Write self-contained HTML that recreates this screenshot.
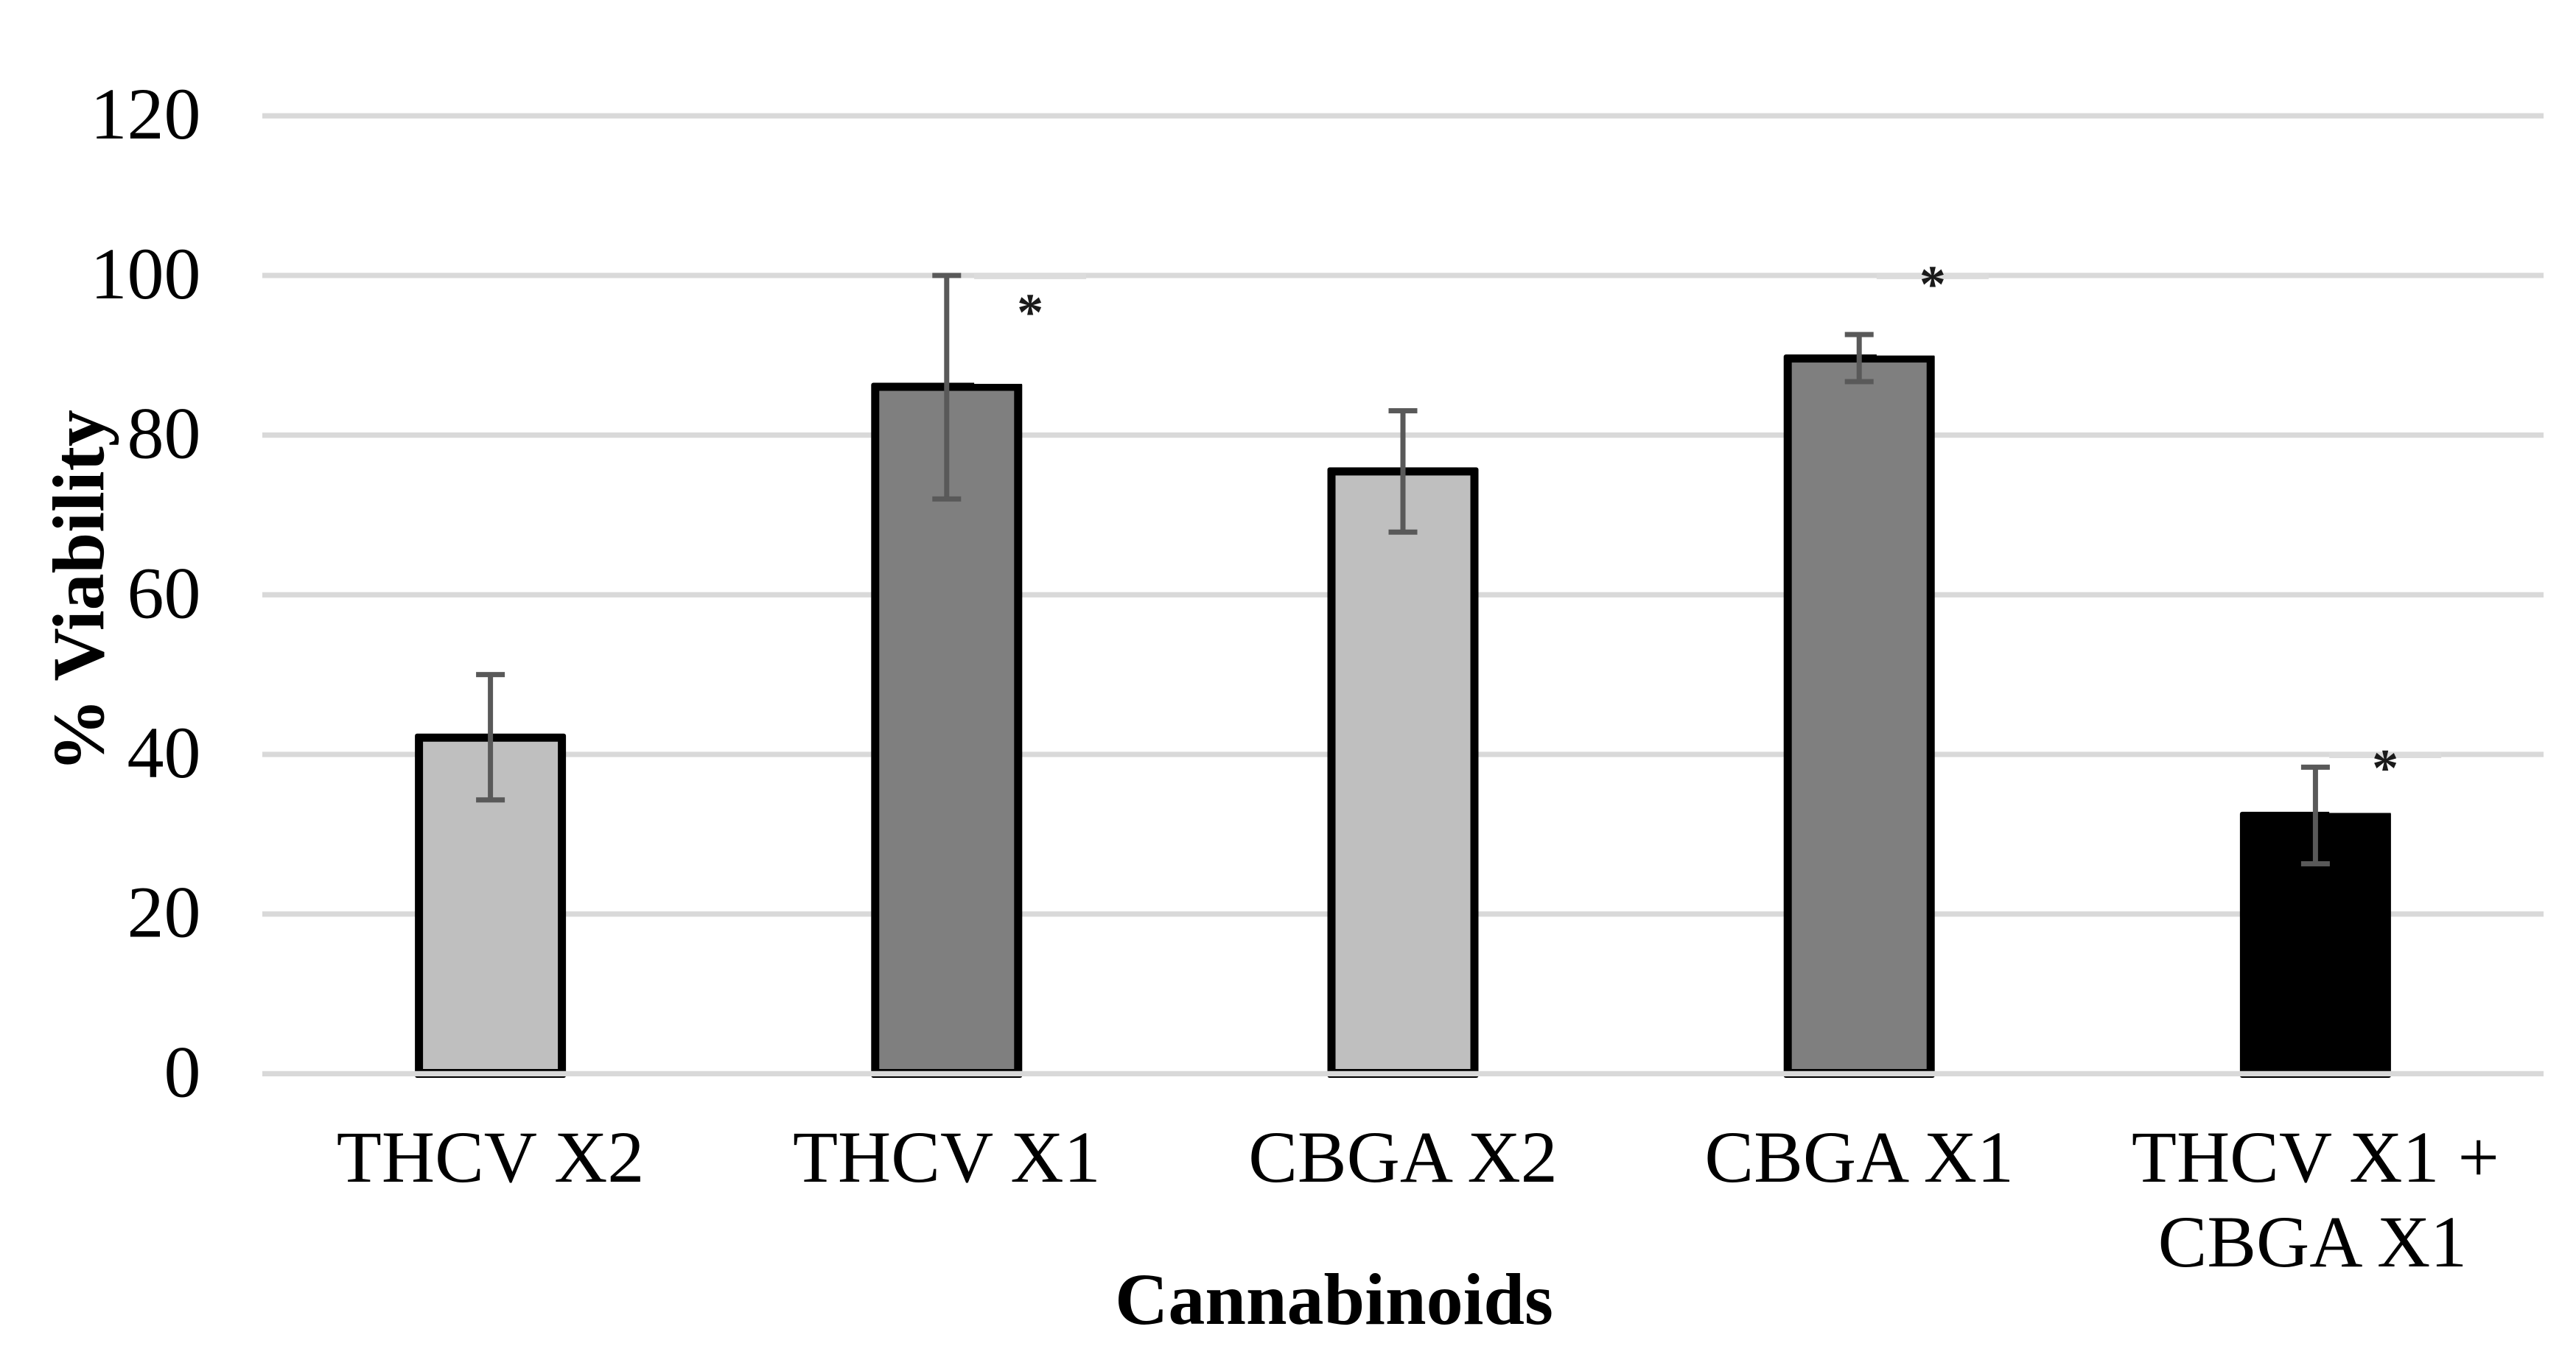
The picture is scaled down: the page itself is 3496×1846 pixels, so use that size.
<!DOCTYPE html>
<html>
<head>
<meta charset="utf-8">
<title>Cannabinoids viability chart</title>
<style>
  html, body { margin: 0; padding: 0; background: #fff; }
  body { width: 3496px; height: 1846px; overflow: hidden; }
  svg { display: block; }
  text { font-family: "Liberation Serif", "Times New Roman", serif; fill: #000; }
</style>
</head>
<body>
<svg id="chart" xmlns="http://www.w3.org/2000/svg" width="3496" height="1846" viewBox="0 0 3496 1846">
  <rect x="0" y="0" width="3496" height="1846" fill="#ffffff"/>
  <text x="1810.5" y="1797" font-size="100" font-weight="bold" text-anchor="middle">Cannabinoids</text>
  <text transform="translate(140 802) rotate(-90)" x="0" y="0" font-size="100" font-weight="bold" text-anchor="middle">% Viability</text>
</svg>
<script>
const categories = [['THCV X2'], ['THCV X1'], ['CBGA X2'], ['CBGA X1'], ['THCV X1 +', 'CBGA X1']];
const viability = [42.1, 86.05, 75.45, 89.6, 32.3];
const errorUpper = [50, 100, 83.05, 92.6, 38.4];
const errorLower = [34.3, 72, 67.85, 86.7, 26.3];
const barKinds = ['light', 'mid', 'light', 'mid', 'dark'];
const yTicks = [0, 20, 40, 60, 80, 100, 120];
const significance = ['', '*', '', '*', '*'];
const markerLevels = [null, 96.3, null, 99.8, 39.2];
const markerBandOffsets = [0, 0.183, 0, 0.161, 0.153];
const pastedGridValues = [null, 100, null, 100, 40];

const NS = 'http://www.w3.org/2000/svg';
const svg = document.getElementById('chart');
const plotLeft = 356, plotRight = 3452, zeroY = 1457.4, pxPerUnit = 10.835;
const band = (plotRight - plotLeft) / categories.length;
const barW = 205, border = 11;
const fills = { light: '#bfbfbf', mid: '#7f7f7f', dark: '#000000' };

function xAt(i) { return plotLeft + band * (i + 0.5); }
function yAt(v) { return zeroY - v * pxPerUnit; }
function make(tag, props, parent) {
  const el = document.createElementNS(NS, tag);
  for (const k in props) el.setAttribute(k, props[k]);
  (parent || svg).appendChild(el);
  return el;
}

// gridlines (zero line is drawn after the bars)
function gridLine(v) {
  const line = make('rect', { x: plotLeft, y: yAt(v) - 3.6, width: plotRight - plotLeft, height: 7.2, fill: '#d9d9d9' });
  
  
}
yTicks.filter(v => v !== 0).forEach(gridLine);

// y tick labels
yTicks.forEach(v => {
  const t = make('text', { x: 272.5, y: yAt(v) + 31, 'font-size': 100, 'text-anchor': 'end' });
  t.textContent = String(v);
  
  
});

// bars
categories.forEach((c, i) => {
  const top = yAt(viability[i]) - border / 2;
  const left = xAt(i) - barW / 2;
  const outer = make('rect', { x: left, y: top, width: barW, height: zeroY + 5.6 - top, rx: 3, fill: '#000000' });
  
  
  const inner = make('rect', { x: left + border, y: top + border, width: barW - 2 * border, height: zeroY - 6.4 - top - border, fill: fills[barKinds[i]] });
  
  
});

gridLine(0);

// pasted annotation artefacts: softened gridline and slightly lowered bar top
significance.forEach((s, i) => {
  if (!s) return;
  const cx = xAt(i) + band * markerBandOffsets[i];
  const ghost = make('rect', { x: cx - 76, y: yAt(pastedGridValues[i]) - 2.6, width: 152, height: 7.6, fill: '#dcdcdc' });
  
  
  const top = yAt(viability[i]) - border / 2;
  const right = xAt(i) + barW / 2;
  const step = make('rect', { x: cx - 76, y: top - 0.5, width: right + 1 - (cx - 76), height: 2, fill: '#ffffff' });
  
  
});

// error bars
categories.forEach((c, i) => {
  const cx = xAt(i), hi = yAt(errorUpper[i]), lo = yAt(errorLower[i]);
  const stem = make('rect', { x: cx - 3.5, y: hi, width: 7, height: lo - hi, fill: '#595959' });
  
  
  const capTop = make('rect', { x: cx - 19.5, y: hi - 3.5, width: 39, height: 7, fill: '#595959' });
  
  
  const capLow = make('rect', { x: cx - 19.5, y: lo - 3.5, width: 39, height: 7, fill: '#595959' });
  
  
});

// significance markers
significance.forEach((s, i) => {
  if (!s) return;
  const fs = 72;
  const t = make('text', { x: xAt(i) + band * markerBandOffsets[i], y: yAt(markerLevels[i]) + 0.47 * fs, 'font-size': fs, 'font-weight': 'bold', 'text-anchor': 'middle', style: 'fill:#1a1a1a' });
  t.textContent = s;
  
  
});

// category labels
categories.forEach((lines, i) => {
  lines.forEach((line, j) => {
    const t = make('text', { x: xAt(i) - j * 4, y: 1604 + j * 115, 'font-size': 100, 'text-anchor': 'middle' });
    t.textContent = line;
    
    
  });
});
</script>
</body>
</html>
